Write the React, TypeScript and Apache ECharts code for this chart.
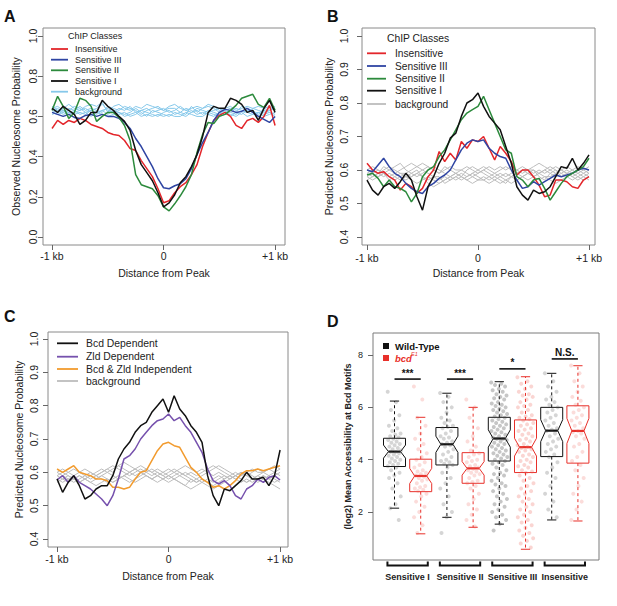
import React, { useEffect, useRef } from "react";
import * as echarts from "echarts";

const FONT = "'Liberation Sans', Arial, Helvetica, sans-serif";

// ---------- shared x positions (bp from peak) ----------
const distanceBp = [-1000, -950, -900, -850, -800, -750, -700, -650, -600, -550, -500, -450, -400, -350, -300, -250, -200, -150, -100, -50, 0, 50, 100, 150, 200, 250, 300, 350, 400, 450, 500, 550, 600, 650, 700, 750, 800, 850, 900, 950, 1000];
const xTickValues = [-1000, 0, 1000];
const xTickLabels = ["-1 kb", "0", "+1 kb"];

// ---------- Panel A: observed nucleosome probability ----------
const obsInsensitive = [0.54, 0.58, 0.56, 0.58, 0.57, 0.59, 0.58, 0.56, 0.55, 0.54, 0.52, 0.51, 0.505, 0.48, 0.44, 0.43, 0.38, 0.34, 0.30, 0.24, 0.17, 0.18, 0.22, 0.25, 0.27, 0.31, 0.36, 0.45, 0.52, 0.58, 0.605, 0.62, 0.60, 0.555, 0.54, 0.58, 0.59, 0.57, 0.60, 0.655, 0.555];
const obsSensitiveIII = [0.62, 0.61, 0.60, 0.61, 0.595, 0.59, 0.605, 0.61, 0.60, 0.61, 0.60, 0.60, 0.59, 0.57, 0.54, 0.49, 0.45, 0.40, 0.35, 0.29, 0.245, 0.24, 0.255, 0.265, 0.29, 0.34, 0.41, 0.47, 0.52, 0.58, 0.62, 0.635, 0.63, 0.62, 0.625, 0.64, 0.62, 0.60, 0.585, 0.57, 0.60];
const obsSensitiveII = [0.63, 0.70, 0.65, 0.59, 0.62, 0.69, 0.68, 0.65, 0.575, 0.60, 0.62, 0.62, 0.595, 0.555, 0.48, 0.31, 0.26, 0.25, 0.24, 0.205, 0.15, 0.13, 0.165, 0.205, 0.25, 0.31, 0.42, 0.51, 0.57, 0.565, 0.60, 0.61, 0.63, 0.655, 0.69, 0.70, 0.71, 0.66, 0.645, 0.69, 0.63];
const obsSensitiveI = [0.64, 0.62, 0.65, 0.63, 0.61, 0.56, 0.58, 0.62, 0.62, 0.68, 0.65, 0.63, 0.60, 0.575, 0.53, 0.43, 0.36, 0.32, 0.28, 0.22, 0.15, 0.17, 0.21, 0.27, 0.30, 0.35, 0.41, 0.50, 0.62, 0.65, 0.64, 0.64, 0.69, 0.68, 0.66, 0.62, 0.63, 0.58, 0.64, 0.68, 0.62];
const obsBackground1 = [0.63, 0.64, 0.62, 0.63, 0.65, 0.64, 0.62, 0.63, 0.64, 0.66, 0.63, 0.62, 0.64, 0.63, 0.65, 0.62, 0.63, 0.64, 0.62, 0.63, 0.64, 0.62, 0.63, 0.65, 0.63, 0.62, 0.64, 0.63, 0.62, 0.63, 0.64, 0.62, 0.63, 0.64, 0.63, 0.62, 0.64, 0.63, 0.62, 0.63, 0.64];
const obsBackground2 = [0.61, 0.62, 0.63, 0.61, 0.62, 0.63, 0.64, 0.62, 0.61, 0.63, 0.64, 0.62, 0.61, 0.62, 0.60, 0.61, 0.63, 0.62, 0.61, 0.60, 0.62, 0.63, 0.61, 0.62, 0.64, 0.63, 0.61, 0.62, 0.61, 0.60, 0.62, 0.61, 0.62, 0.61, 0.63, 0.62, 0.61, 0.62, 0.61, 0.62, 0.61];
const obsBackground3 = [0.65, 0.63, 0.64, 0.66, 0.64, 0.63, 0.65, 0.66, 0.65, 0.67, 0.62, 0.65, 0.66, 0.64, 0.63, 0.65, 0.64, 0.66, 0.65, 0.64, 0.63, 0.65, 0.66, 0.64, 0.63, 0.64, 0.65, 0.64, 0.66, 0.65, 0.63, 0.64, 0.65, 0.63, 0.64, 0.65, 0.64, 0.65, 0.64, 0.63, 0.65];
const obsBackground4 = [0.62, 0.61, 0.62, 0.64, 0.63, 0.61, 0.62, 0.60, 0.62, 0.63, 0.61, 0.63, 0.62, 0.61, 0.62, 0.64, 0.62, 0.60, 0.63, 0.62, 0.61, 0.60, 0.62, 0.61, 0.60, 0.62, 0.63, 0.61, 0.63, 0.62, 0.61, 0.63, 0.60, 0.62, 0.61, 0.63, 0.62, 0.60, 0.63, 0.62, 0.60];
const obsBackground5 = [0.64, 0.65, 0.63, 0.62, 0.63, 0.65, 0.63, 0.64, 0.63, 0.62, 0.65, 0.64, 0.63, 0.65, 0.64, 0.63, 0.61, 0.63, 0.64, 0.65, 0.63, 0.64, 0.64, 0.62, 0.61, 0.65, 0.62, 0.64, 0.65, 0.64, 0.62, 0.63, 0.64, 0.62, 0.65, 0.64, 0.63, 0.61, 0.64, 0.65, 0.63];
const obsBackground6 = [0.62, 0.63, 0.61, 0.62, 0.61, 0.62, 0.61, 0.63, 0.62, 0.61, 0.60, 0.61, 0.62, 0.60, 0.61, 0.62, 0.60, 0.61, 0.60, 0.61, 0.60, 0.61, 0.60, 0.60, 0.62, 0.61, 0.60, 0.60, 0.62, 0.61, 0.60, 0.61, 0.61, 0.60, 0.62, 0.60, 0.61, 0.62, 0.60, 0.61, 0.62];

// ---------- Panel B: predicted nucleosome probability, ChIP classes ----------
const predInsensitive = [0.62, 0.60, 0.59, 0.595, 0.58, 0.57, 0.54, 0.56, 0.55, 0.53, 0.545, 0.58, 0.60, 0.655, 0.625, 0.65, 0.63, 0.685, 0.665, 0.69, 0.685, 0.70, 0.665, 0.63, 0.67, 0.65, 0.625, 0.585, 0.60, 0.60, 0.58, 0.555, 0.52, 0.525, 0.57, 0.57, 0.565, 0.55, 0.545, 0.57, 0.58];
const predSensitiveIII = [0.60, 0.595, 0.615, 0.635, 0.61, 0.59, 0.58, 0.56, 0.545, 0.535, 0.53, 0.55, 0.56, 0.575, 0.585, 0.60, 0.63, 0.66, 0.68, 0.69, 0.685, 0.69, 0.665, 0.65, 0.64, 0.635, 0.60, 0.57, 0.545, 0.55, 0.565, 0.555, 0.565, 0.575, 0.585, 0.58, 0.585, 0.59, 0.60, 0.605, 0.60];
const predSensitiveII = [0.585, 0.59, 0.575, 0.55, 0.57, 0.55, 0.545, 0.535, 0.505, 0.53, 0.58, 0.60, 0.61, 0.64, 0.66, 0.69, 0.72, 0.75, 0.77, 0.78, 0.79, 0.82, 0.78, 0.74, 0.70, 0.66, 0.65, 0.58, 0.57, 0.55, 0.57, 0.575, 0.545, 0.51, 0.535, 0.56, 0.58, 0.59, 0.60, 0.61, 0.635];
const predSensitiveI = [0.57, 0.54, 0.525, 0.55, 0.56, 0.545, 0.565, 0.59, 0.57, 0.52, 0.48, 0.55, 0.58, 0.62, 0.65, 0.695, 0.71, 0.76, 0.80, 0.81, 0.83, 0.79, 0.76, 0.74, 0.72, 0.67, 0.62, 0.55, 0.525, 0.51, 0.54, 0.53, 0.535, 0.55, 0.58, 0.61, 0.605, 0.635, 0.60, 0.62, 0.645];
const predBackgroundB1 = [0.60, 0.61, 0.60, 0.59, 0.60, 0.61, 0.62, 0.60, 0.59, 0.58, 0.59, 0.60, 0.61, 0.60, 0.59, 0.58, 0.59, 0.60, 0.59, 0.58, 0.59, 0.60, 0.59, 0.58, 0.59, 0.58, 0.59, 0.60, 0.61, 0.60, 0.59, 0.60, 0.59, 0.60, 0.61, 0.60, 0.59, 0.58, 0.59, 0.60, 0.59];
const predBackgroundB2 = [0.58, 0.57, 0.58, 0.59, 0.57, 0.58, 0.59, 0.58, 0.57, 0.56, 0.57, 0.58, 0.57, 0.56, 0.57, 0.58, 0.57, 0.58, 0.57, 0.56, 0.57, 0.58, 0.57, 0.58, 0.57, 0.56, 0.58, 0.57, 0.58, 0.59, 0.58, 0.57, 0.58, 0.57, 0.56, 0.57, 0.58, 0.57, 0.58, 0.57, 0.58];
const predBackgroundB3 = [0.59, 0.60, 0.59, 0.61, 0.60, 0.59, 0.60, 0.61, 0.62, 0.61, 0.60, 0.61, 0.60, 0.59, 0.60, 0.61, 0.60, 0.60, 0.61, 0.60, 0.59, 0.60, 0.61, 0.60, 0.61, 0.60, 0.61, 0.60, 0.59, 0.60, 0.61, 0.62, 0.61, 0.60, 0.59, 0.60, 0.61, 0.60, 0.61, 0.60, 0.61];
const predBackgroundB4 = [0.57, 0.58, 0.59, 0.58, 0.59, 0.58, 0.57, 0.58, 0.59, 0.60, 0.58, 0.57, 0.58, 0.57, 0.58, 0.57, 0.58, 0.59, 0.58, 0.59, 0.58, 0.57, 0.58, 0.59, 0.58, 0.59, 0.58, 0.59, 0.58, 0.57, 0.58, 0.59, 0.60, 0.59, 0.58, 0.59, 0.58, 0.59, 0.58, 0.59, 0.58];
const predBackgroundB5 = [0.60, 0.59, 0.58, 0.59, 0.58, 0.59, 0.58, 0.57, 0.58, 0.59, 0.60, 0.59, 0.58, 0.58, 0.56, 0.57, 0.58, 0.57, 0.58, 0.59, 0.60, 0.59, 0.58, 0.57, 0.56, 0.57, 0.56, 0.57, 0.58, 0.59, 0.58, 0.59, 0.60, 0.61, 0.60, 0.59, 0.60, 0.59, 0.60, 0.59, 0.60];
const predBackgroundB6 = [0.59, 0.58, 0.59, 0.60, 0.61, 0.60, 0.59, 0.59, 0.60, 0.61, 0.62, 0.61, 0.60, 0.59, 0.61, 0.60, 0.59, 0.58, 0.60, 0.61, 0.60, 0.61, 0.60, 0.59, 0.60, 0.61, 0.60, 0.59, 0.60, 0.60, 0.60, 0.59, 0.58, 0.58, 0.59, 0.60, 0.59, 0.58, 0.57, 0.58, 0.57];
const predBackgroundB7 = [0.58, 0.59, 0.60, 0.59, 0.58, 0.57, 0.58, 0.59, 0.58, 0.59, 0.58, 0.56, 0.55, 0.56, 0.57, 0.58, 0.59, 0.58, 0.57, 0.58, 0.57, 0.57, 0.56, 0.57, 0.58, 0.57, 0.58, 0.59, 0.60, 0.59, 0.60, 0.58, 0.57, 0.59, 0.60, 0.58, 0.59, 0.60, 0.59, 0.58, 0.59];

// ---------- Panel C: predicted nucleosome probability, Bcd / Zld classes ----------
const predBcdDependent = [0.58, 0.54, 0.57, 0.59, 0.56, 0.52, 0.53, 0.55, 0.56, 0.56, 0.59, 0.64, 0.67, 0.69, 0.72, 0.74, 0.75, 0.78, 0.80, 0.82, 0.78, 0.83, 0.79, 0.77, 0.74, 0.72, 0.69, 0.59, 0.53, 0.50, 0.55, 0.545, 0.56, 0.575, 0.60, 0.58, 0.58, 0.585, 0.56, 0.59, 0.667];
const predZldDependent = [0.577, 0.59, 0.57, 0.59, 0.57, 0.56, 0.55, 0.535, 0.52, 0.50, 0.53, 0.58, 0.64, 0.65, 0.67, 0.70, 0.72, 0.74, 0.755, 0.76, 0.775, 0.755, 0.765, 0.74, 0.72, 0.69, 0.66, 0.61, 0.575, 0.565, 0.575, 0.56, 0.53, 0.52, 0.55, 0.56, 0.58, 0.57, 0.585, 0.59, 0.577];
const predIndependent = [0.61, 0.60, 0.61, 0.62, 0.60, 0.595, 0.59, 0.58, 0.58, 0.575, 0.555, 0.555, 0.55, 0.555, 0.58, 0.60, 0.605, 0.635, 0.665, 0.685, 0.69, 0.68, 0.675, 0.645, 0.615, 0.60, 0.58, 0.57, 0.555, 0.56, 0.55, 0.56, 0.575, 0.595, 0.605, 0.605, 0.61, 0.605, 0.61, 0.615, 0.62];
const predBackgroundC1 = [0.60, 0.61, 0.60, 0.59, 0.60, 0.61, 0.60, 0.59, 0.60, 0.61, 0.62, 0.61, 0.60, 0.59, 0.60, 0.61, 0.60, 0.61, 0.60, 0.59, 0.60, 0.61, 0.60, 0.59, 0.60, 0.59, 0.60, 0.61, 0.62, 0.61, 0.60, 0.59, 0.60, 0.59, 0.60, 0.61, 0.60, 0.60, 0.61, 0.60, 0.61];
const predBackgroundC2 = [0.58, 0.57, 0.58, 0.59, 0.57, 0.58, 0.57, 0.56, 0.57, 0.58, 0.57, 0.58, 0.59, 0.58, 0.57, 0.58, 0.59, 0.58, 0.57, 0.58, 0.59, 0.58, 0.57, 0.56, 0.58, 0.57, 0.58, 0.57, 0.56, 0.57, 0.58, 0.59, 0.58, 0.57, 0.58, 0.57, 0.58, 0.59, 0.58, 0.57, 0.58];
const predBackgroundC3 = [0.59, 0.60, 0.59, 0.58, 0.59, 0.58, 0.59, 0.60, 0.61, 0.60, 0.61, 0.62, 0.61, 0.60, 0.61, 0.62, 0.61, 0.60, 0.61, 0.60, 0.59, 0.60, 0.59, 0.60, 0.59, 0.58, 0.59, 0.60, 0.59, 0.60, 0.59, 0.58, 0.59, 0.60, 0.59, 0.58, 0.59, 0.60, 0.59, 0.60, 0.59];
const predBackgroundC4 = [0.57, 0.58, 0.57, 0.58, 0.59, 0.58, 0.57, 0.58, 0.59, 0.58, 0.57, 0.58, 0.59, 0.60, 0.59, 0.60, 0.59, 0.58, 0.59, 0.58, 0.59, 0.58, 0.57, 0.56, 0.55, 0.56, 0.57, 0.58, 0.57, 0.58, 0.59, 0.58, 0.59, 0.58, 0.57, 0.58, 0.57, 0.58, 0.57, 0.56, 0.55];
const predBackgroundC5 = [0.60, 0.59, 0.60, 0.61, 0.60, 0.59, 0.58, 0.59, 0.60, 0.61, 0.60, 0.62, 0.63, 0.62, 0.61, 0.60, 0.61, 0.60, 0.59, 0.60, 0.61, 0.60, 0.61, 0.62, 0.61, 0.60, 0.61, 0.60, 0.61, 0.62, 0.61, 0.60, 0.59, 0.60, 0.59, 0.60, 0.61, 0.60, 0.61, 0.62, 0.61];
const predBackgroundC6 = [0.58, 0.59, 0.58, 0.57, 0.58, 0.59, 0.60, 0.59, 0.58, 0.57, 0.58, 0.59, 0.58, 0.57, 0.58, 0.59, 0.60, 0.59, 0.60, 0.59, 0.58, 0.59, 0.60, 0.59, 0.58, 0.57, 0.58, 0.57, 0.58, 0.59, 0.58, 0.59, 0.58, 0.59, 0.60, 0.59, 0.58, 0.59, 0.58, 0.59, 0.60];
const predBackgroundC7 = [0.59, 0.58, 0.59, 0.58, 0.57, 0.58, 0.59, 0.58, 0.59, 0.60, 0.59, 0.58, 0.59, 0.60, 0.61, 0.60, 0.59, 0.58, 0.59, 0.58, 0.57, 0.58, 0.59, 0.58, 0.57, 0.58, 0.57, 0.56, 0.55, 0.56, 0.57, 0.58, 0.59, 0.58, 0.57, 0.58, 0.59, 0.58, 0.59, 0.58, 0.57];

// ---------- Panel D: accessibility boxplots ----------
const groupNames = ["Sensitive I", "Sensitive II", "Sensitive III", "Insensitive"];
const groupCenters = [1.5, 3.5, 5.5, 7.5];
const wtPositions = [1, 3, 5, 7];
const mutPositions = [2, 4, 6, 8];
const wtLowerWhisker = [2.15, 1.80, 1.54, 1.70];
const wtQ1 = [3.74, 3.80, 3.95, 4.12];
const wtMedian = [4.31, 4.59, 4.81, 5.11];
const wtQ3 = [4.82, 5.23, 5.62, 6.00];
const wtUpperWhisker = [6.24, 6.54, 6.98, 7.30];
const wtNotchHalf = [0.25, 0.31, 0.33, 0.42];
const mutLowerWhisker = [1.17, 1.42, 0.58, 1.66];
const mutQ1 = [2.78, 3.10, 3.51, 3.87];
const mutMedian = [3.38, 3.67, 4.48, 5.10];
const mutQ3 = [4.02, 4.27, 5.52, 6.06];
const mutUpperWhisker = [5.62, 6.00, 7.17, 7.59];
const mutNotchHalf = [0.29, 0.26, 0.34, 0.48];
const sigLabels = ["***", "***", "*", "N.S."];
const sigHeights = [7.08, 7.08, 7.47, 7.85];
const dTicks = [2, 4, 6, 8];

const wtPointsSI = [6.6, 6.2, 5.9, 5.7, 5.5, 5.3, 5.2, 5.1, 5.0, 4.95, 4.9, 4.85, 4.8, 4.75, 4.7, 4.65, 4.6, 4.55, 4.5, 4.45, 4.4, 4.35, 4.3, 4.3, 4.25, 4.2, 4.15, 4.1, 4.05, 4.0, 3.95, 3.9, 3.85, 3.8, 3.75, 3.7, 3.6, 3.5, 3.4, 3.3, 3.1, 2.9, 2.6, 2.3, 2.15, 1.7];
const mutPointsSI = [6.8, 6.3, 5.6, 5.3, 5.0, 4.8, 4.6, 4.4, 4.25, 4.1, 4.0, 3.9, 3.8, 3.7, 3.6, 3.55, 3.5, 3.45, 3.4, 3.35, 3.3, 3.25, 3.2, 3.1, 3.0, 2.95, 2.9, 2.85, 2.8, 2.7, 2.6, 2.4, 2.2, 2.0, 1.8, 1.5, 1.2];
const wtPointsSII = [6.55, 6.4, 6.2, 6.0, 5.8, 5.6, 5.5, 5.4, 5.3, 5.25, 5.2, 5.1, 5.0, 4.9, 4.85, 4.8, 4.7, 4.65, 4.6, 4.55, 4.5, 4.4, 4.3, 4.2, 4.1, 4.0, 3.95, 3.9, 3.85, 3.8, 3.7, 3.5, 3.3, 3.1, 2.9, 2.6, 2.3, 2.0, 1.8, 1.2];
const mutPointsSII = [6.3, 6.0, 5.6, 5.2, 4.9, 4.7, 4.5, 4.35, 4.25, 4.2, 4.1, 4.0, 3.95, 3.9, 3.8, 3.75, 3.7, 3.65, 3.6, 3.55, 3.5, 3.45, 3.4, 3.3, 3.2, 3.15, 3.1, 3.0, 2.9, 2.7, 2.5, 2.3, 2.1, 1.9, 1.7, 1.45];
const wtPointsSIII = [6.95, 6.9, 6.85, 6.8, 6.7, 6.65, 6.6, 6.5, 6.45, 6.4, 6.35, 6.3, 6.2, 6.15, 6.1, 6.05, 6.0, 5.95, 5.9, 5.85, 5.8, 5.75, 5.7, 5.65, 5.6, 5.55, 5.5, 5.45, 5.4, 5.35, 5.3, 5.25, 5.2, 5.15, 5.1, 5.05, 5.0, 4.95, 4.9, 4.85, 4.8, 4.8, 4.75, 4.7, 4.65, 4.6, 4.55, 4.5, 4.45, 4.4, 4.35, 4.3, 4.25, 4.2, 4.15, 4.1, 4.05, 4.0, 3.95, 3.9, 3.85, 3.8, 3.7, 3.6, 3.5, 3.45, 3.4, 3.3, 3.2, 3.1, 3.05, 3.0, 2.9, 2.8, 2.7, 2.6, 2.5, 2.4, 2.3, 2.2, 2.1, 2.0, 1.9, 1.8, 1.7, 1.55, 1.3];
const mutPointsSIII = [7.15, 7.0, 6.9, 6.8, 6.7, 6.6, 6.5, 6.45, 6.4, 6.3, 6.2, 6.1, 6.05, 6.0, 5.9, 5.8, 5.7, 5.65, 5.6, 5.55, 5.5, 5.4, 5.35, 5.3, 5.2, 5.15, 5.1, 5.0, 4.95, 4.9, 4.8, 4.75, 4.7, 4.6, 4.55, 4.5, 4.45, 4.4, 4.35, 4.3, 4.2, 4.15, 4.1, 4.0, 3.95, 3.9, 3.8, 3.75, 3.7, 3.6, 3.55, 3.5, 3.4, 3.3, 3.2, 3.1, 3.0, 2.9, 2.8, 2.7, 2.6, 2.5, 2.4, 2.3, 2.2, 2.1, 2.0, 1.9, 1.8, 1.7, 1.6, 1.5, 1.4, 1.3, 1.2, 1.1, 1.0, 0.9, 0.8, 0.65];
const wtPointsIns = [7.3, 7.0, 6.8, 6.6, 6.4, 6.3, 6.2, 6.1, 6.0, 5.9, 5.8, 5.7, 5.6, 5.5, 5.4, 5.3, 5.2, 5.15, 5.1, 5.0, 4.9, 4.8, 4.7, 4.6, 4.5, 4.4, 4.3, 4.2, 4.1, 3.9, 3.7, 3.5, 3.3, 3.0, 2.7, 2.4, 2.1, 1.8];
const mutPointsIns = [7.6, 7.3, 7.0, 6.8, 6.6, 6.4, 6.25, 6.1, 6.0, 5.9, 5.8, 5.7, 5.6, 5.5, 5.4, 5.3, 5.2, 5.1, 5.05, 5.0, 4.9, 4.8, 4.6, 4.5, 4.3, 4.1, 3.95, 3.8, 3.6, 3.3, 3.0, 2.7, 2.4, 2.1, 1.7];

// ---------- styling constants ----------
const C_RED = "#e3262b";
const C_BLUE = "#2f45a3";
const C_GREEN = "#2c8a3c";
const C_BLACK = "#111111";
const C_SKY = "#86c8ea";
const C_GRAY = "#bdbdbd";
const C_PURPLE = "#7651ad";
const C_ORANGE = "#f29b2e";
const D_RED = "#e8302a";
const TXT = "#222222";
const BOX_WIDTH = 0.84;

function pairs(arr: number[]) {
  return distanceBp.map((x, i) => [x, arr[i]]);
}

function lineSeries(ax: number, arr: number[], color: string, width: number) {
  return {
    type: "line",
    xAxisIndex: ax,
    yAxisIndex: ax,
    data: pairs(arr),
    symbol: "none",
    showSymbol: false,
    silent: true,
    lineStyle: { color, width },
  };
}

function lineXAxis(grid: number, min: number, max: number, margin: number, nameGap: number) {
  return {
    gridIndex: grid,
    type: "value",
    min,
    max,
    axisLine: { show: false, onZero: false },
    splitLine: { show: false },
    axisTick: { show: true, customValues: xTickValues, length: 5, lineStyle: { color: "#666", width: 1 } },
    axisLabel: {
      customValues: xTickValues,
      formatter: (v: number) => xTickLabels[xTickValues.indexOf(v)] ?? "",
      margin,
      fontSize: 10.5,
      color: TXT,
      fontFamily: FONT,
    },
    name: "Distance from Peak",
    nameLocation: "middle",
    nameGap,
    nameTextStyle: { fontSize: 10.5, color: TXT, fontFamily: FONT },
  };
}

function lineYAxis(grid: number, min: number, max: number, ticks: number[], margin: number, name: string, nameGap: number) {
  return {
    gridIndex: grid,
    type: "value",
    min,
    max,
    axisLine: { show: false, onZero: false },
    splitLine: { show: false },
    axisTick: { show: true, customValues: ticks, length: 5, lineStyle: { color: "#666", width: 1 } },
    axisLabel: {
      customValues: ticks,
      formatter: (v: number) => v.toFixed(1),
      rotate: 90,
      margin,
      fontSize: 10.5,
      color: TXT,
      fontFamily: FONT,
    },
    name,
    nameLocation: "middle",
    nameGap,
    nameTextStyle: { fontSize: 10.5, color: TXT, fontFamily: FONT },
  };
}

function boxSeries(positions: number[], lo: number[], q1: number[], med: number[], q3: number[], hi: number[], notch: number[], color: string) {
  return {
    type: "custom",
    xAxisIndex: 3,
    yAxisIndex: 3,
    clip: false,
    silent: true,
    z: 3,
    data: positions.map((p, i) => [p, lo[i], q1[i], med[i], q3[i], hi[i], notch[i]]),
    renderItem: (_params: any, api: any) => {
      const p = api.value(0);
      const y = (v: number) => api.coord([p, v])[1];
      const cx = api.coord([p, api.value(3)])[0];
      const hw = api.size([BOX_WIDTH, 0])[0] / 2;
      const inner = hw * 0.55;
      const yLo = y(api.value(1));
      const yQ1 = y(api.value(2));
      const yMed = y(api.value(3));
      const yQ3 = y(api.value(4));
      const yHi = y(api.value(5));
      const yNT = y(api.value(3) + api.value(6));
      const yNB = y(api.value(3) - api.value(6));
      const cap = hw * 0.42;
      return {
        type: "group",
        children: [
          { type: "line", shape: { x1: cx, y1: yQ3, x2: cx, y2: yHi }, style: { stroke: color, lineWidth: 1, lineDash: [3, 3] } },
          { type: "line", shape: { x1: cx, y1: yQ1, x2: cx, y2: yLo }, style: { stroke: color, lineWidth: 1, lineDash: [3, 3] } },
          { type: "line", shape: { x1: cx - cap, y1: yHi, x2: cx + cap, y2: yHi }, style: { stroke: color, lineWidth: 1 } },
          { type: "line", shape: { x1: cx - cap, y1: yLo, x2: cx + cap, y2: yLo }, style: { stroke: color, lineWidth: 1 } },
          {
            type: "polygon",
            shape: {
              points: [
                [cx - hw, yQ3], [cx + hw, yQ3], [cx + hw, yNT], [cx + inner, yMed], [cx + hw, yNB],
                [cx + hw, yQ1], [cx - hw, yQ1], [cx - hw, yNB], [cx - inner, yMed], [cx - hw, yNT],
              ],
            },
            style: { fill: "rgba(255,255,255,0)", stroke: color, lineWidth: 1 },
          },
          { type: "line", shape: { x1: cx - inner, y1: yMed, x2: cx + inner, y2: yMed }, style: { stroke: color, lineWidth: 2.2 } },
        ],
      };
    },
  };
}

function jittered(pos: number, values: number[], spread: number) {
  return values.map((v, i) => [pos + (((i * 0.618034) % 1) - 0.5) * spread, v]);
}

function pointSeries(pos: number, values: number[], color: string, spread: number) {
  return {
    type: "scatter",
    xAxisIndex: 3,
    yAxisIndex: 3,
    data: jittered(pos, values, spread),
    symbol: "circle",
    symbolSize: 4,
    silent: true,
    z: 4,
    itemStyle: { color, borderWidth: 0 },
  };
}

function legendBlock(x0: number, x1: number, tx: number, ys: number[], labels: string[], colors: string[], size: number) {
  const out: any[] = [];
  labels.forEach((lab, i) => {
    out.push({ type: "line", shape: { x1: x0, y1: ys[i], x2: x1, y2: ys[i] }, style: { stroke: colors[i], lineWidth: 1.8 }, silent: true });
    out.push({ type: "text", x: tx, y: ys[i], style: { text: lab, fontSize: size, fontFamily: FONT, fill: TXT, align: "left", verticalAlign: "middle" }, silent: true });
  });
  return out;
}

function letter(ch: string, x: number, y: number) {
  return { type: "text", x, y, style: { text: ch, fontSize: 16, fontWeight: "bold", fontFamily: FONT, fill: "#111", align: "left", verticalAlign: "middle" }, silent: true };
}

export default function App() {
  const ref = useRef<HTMLDivElement>(null);

  useEffect(() => {
    if (!ref.current) return;
    const chart = echarts.init(ref.current, undefined, { renderer: "svg" });

    const gridStyle = { show: true, borderColor: "#8a8a8a", borderWidth: 1, backgroundColor: "rgba(0,0,0,0)" };

    const classLabels = ["Insensitive", "Sensitive III", "Sensitive II", "Sensitive I", "background"];
    const WT_PT = "rgba(80,80,80,0.3)";
    const MUT_PT = "rgba(235,95,85,0.27)";

    const option: any = {
      animation: false,
      grid: [
        { left: 43, top: 28, width: 242, height: 217, ...gridStyle },
        { left: 362, top: 28, width: 233, height: 217, ...gridStyle },
        { left: 48, top: 332, width: 240, height: 215, ...gridStyle },
        { left: 373, top: 333, width: 226, height: 227, ...gridStyle, borderColor: "#7a7a7a" },
      ],
      xAxis: [
        lineXAxis(0, -1081, 1089, 5, 22),
        lineXAxis(1, -1045, 1054, 7, 22),
        lineXAxis(2, -1081, 1071, 6, 23),
        {
          gridIndex: 3,
          type: "value",
          min: 0.179,
          max: 8.805,
          axisLine: { show: false, onZero: false },
          splitLine: { show: false },
          axisTick: { show: false },
          axisLabel: {
            customValues: groupCenters,
            formatter: (v: number) => groupNames[groupCenters.indexOf(v)] ?? "",
            margin: 12,
            fontSize: 9,
            fontWeight: "bold",
            color: TXT,
            fontFamily: FONT,
          },
        },
      ],
      yAxis: [
        lineYAxis(0, -0.04, 1.04, [0, 0.2, 0.4, 0.6, 0.8, 1.0], 5, "Observed Nucleosome Probability", 22),
        lineYAxis(1, 0.376, 1.024, [0.4, 0.5, 0.6, 0.7, 0.8, 0.9, 1.0], 13, "Predicted Nucleosome Probability", 28),
        lineYAxis(2, 0.376, 1.021, [0.4, 0.5, 0.6, 0.7, 0.8, 0.9, 1.0], 9, "Predicted Nucleosome Probability", 24),
        {
          gridIndex: 3,
          type: "value",
          min: 0.17,
          max: 8.84,
          axisLine: { show: false, onZero: false },
          splitLine: { show: false },
          axisTick: { show: true, customValues: dTicks, length: 5, lineStyle: { color: "#666" } },
          axisLabel: { customValues: dTicks, margin: 10, fontSize: 9, color: TXT, fontFamily: FONT },
          name: "(log2) Mean Accessibility at Bcd Motifs",
          nameLocation: "middle",
          nameGap: 21,
          nameTextStyle: { fontSize: 9, fontWeight: "bold", color: TXT, fontFamily: FONT },
        },
      ],
      series: [
        // Panel A
        lineSeries(0, obsBackground1, C_SKY, 1),
        lineSeries(0, obsBackground2, C_SKY, 1),
        lineSeries(0, obsBackground3, C_SKY, 1),
        lineSeries(0, obsBackground4, C_SKY, 1),
        lineSeries(0, obsBackground5, C_SKY, 1),
        lineSeries(0, obsBackground6, C_SKY, 1),
        lineSeries(0, obsInsensitive, C_RED, 1.5),
        lineSeries(0, obsSensitiveIII, C_BLUE, 1.5),
        lineSeries(0, obsSensitiveII, C_GREEN, 1.5),
        lineSeries(0, obsSensitiveI, C_BLACK, 1.5),
        // Panel B
        lineSeries(1, predBackgroundB1, C_GRAY, 1),
        lineSeries(1, predBackgroundB2, C_GRAY, 1),
        lineSeries(1, predBackgroundB3, C_GRAY, 1),
        lineSeries(1, predBackgroundB4, C_GRAY, 1),
        lineSeries(1, predBackgroundB5, C_GRAY, 1),
        lineSeries(1, predBackgroundB6, C_GRAY, 1),
        lineSeries(1, predBackgroundB7, C_GRAY, 1),
        lineSeries(1, predInsensitive, C_RED, 1.5),
        lineSeries(1, predSensitiveIII, C_BLUE, 1.5),
        lineSeries(1, predSensitiveII, C_GREEN, 1.5),
        lineSeries(1, predSensitiveI, C_BLACK, 1.5),
        // Panel C
        lineSeries(2, predBackgroundC1, C_GRAY, 1),
        lineSeries(2, predBackgroundC2, C_GRAY, 1),
        lineSeries(2, predBackgroundC3, C_GRAY, 1),
        lineSeries(2, predBackgroundC4, C_GRAY, 1),
        lineSeries(2, predBackgroundC5, C_GRAY, 1),
        lineSeries(2, predBackgroundC6, C_GRAY, 1),
        lineSeries(2, predBackgroundC7, C_GRAY, 1),
        lineSeries(2, predIndependent, C_ORANGE, 1.5),
        lineSeries(2, predZldDependent, C_PURPLE, 1.5),
        lineSeries(2, predBcdDependent, C_BLACK, 1.5),
        // Panel D boxes
        boxSeries(wtPositions, wtLowerWhisker, wtQ1, wtMedian, wtQ3, wtUpperWhisker, wtNotchHalf, "#111111"),
        boxSeries(mutPositions, mutLowerWhisker, mutQ1, mutMedian, mutQ3, mutUpperWhisker, mutNotchHalf, D_RED),
        // Panel D points
        pointSeries(wtPositions[0], wtPointsSI, WT_PT, 0.52),
        pointSeries(mutPositions[0], mutPointsSI, MUT_PT, 0.52),
        pointSeries(wtPositions[1], wtPointsSII, WT_PT, 0.52),
        pointSeries(mutPositions[1], mutPointsSII, MUT_PT, 0.52),
        pointSeries(wtPositions[2], wtPointsSIII, "rgba(70,70,70,0.38)", 0.62),
        pointSeries(mutPositions[2], mutPointsSIII, "rgba(235,95,85,0.33)", 0.62),
        pointSeries(wtPositions[3], wtPointsIns, WT_PT, 0.52),
        pointSeries(mutPositions[3], mutPointsIns, MUT_PT, 0.52),
        // Panel D significance bars
        {
          type: "custom",
          xAxisIndex: 3,
          yAxisIndex: 3,
          clip: false,
          silent: true,
          z: 5,
          data: sigLabels.map((_, i) => [wtPositions[i], mutPositions[i], sigHeights[i], i]),
          renderItem: (_p: any, api: any) => {
            const a = api.coord([api.value(0), api.value(2)]);
            const b = api.coord([api.value(1), api.value(2)]);
            return {
              type: "group",
              children: [
                { type: "line", shape: { x1: a[0], y1: a[1], x2: b[0], y2: b[1] }, style: { stroke: "#111", lineWidth: 1.6 } },
                {
                  type: "text",
                  x: (a[0] + b[0]) / 2,
                  y: a[1] - 1,
                  style: { text: sigLabels[api.value(3)], fontSize: 10, fontWeight: "bold", fontFamily: FONT, fill: "#111", align: "center", verticalAlign: "bottom" },
                },
              ],
            };
          },
        },
        // Panel D group brackets below axis
        {
          type: "custom",
          xAxisIndex: 3,
          yAxisIndex: 3,
          clip: false,
          silent: true,
          z: 5,
          data: groupCenters.map((_, i) => [wtPositions[i], mutPositions[i]]),
          renderItem: (_p: any, api: any) => {
            const a = api.coord([api.value(0), 0.17]);
            const b = api.coord([api.value(1), 0.17]);
            const ext = api.size([0.27, 0])[0];
            const yb = a[1] + 5.5;
            return {
              type: "polyline",
              shape: { points: [[a[0] - ext, yb - 4], [a[0] - ext, yb], [b[0] + ext, yb], [b[0] + ext, yb - 4]] },
              style: { stroke: "#111", lineWidth: 2, fill: null },
            };
          },
        },
      ],
      graphic: [
        letter("A", 4, 16),
        letter("B", 327, 16),
        letter("C", 4, 316),
        letter("D", 327, 321),
        // Legend A
        { type: "text", x: 68, y: 36, style: { text: "ChIP Classes", fontSize: 9, fontFamily: FONT, fill: TXT, align: "left", verticalAlign: "middle" }, silent: true },
        ...legendBlock(51, 68, 75, [49, 59.7, 70.3, 81, 91.7], classLabels, [C_RED, C_BLUE, C_GREEN, C_BLACK, C_SKY], 9),
        // Legend B
        { type: "text", x: 387, y: 38, style: { text: "ChIP Classes", fontSize: 10.3, fontFamily: FONT, fill: TXT, align: "left", verticalAlign: "middle" }, silent: true },
        ...legendBlock(367, 386, 395, [53.3, 66, 78.7, 90.7, 104], classLabels, [C_RED, C_BLUE, C_GREEN, C_BLACK, C_GRAY], 10.2),
        // Legend C
        ...legendBlock(57, 78, 86, [343.3, 356.7, 369, 381], ["Bcd Dependent", "Zld Dependent", "Bcd & Zld Independent", "background"], [C_BLACK, C_PURPLE, C_ORANGE, C_GRAY], 10.4),
        // Legend D
        { type: "rect", shape: { x: 383, y: 343, width: 6, height: 6 }, style: { fill: "#111" }, silent: true },
        { type: "rect", shape: { x: 383, y: 355, width: 6, height: 6 }, style: { fill: D_RED }, silent: true },
        { type: "text", x: 395, y: 346, style: { text: "Wild-Type", fontSize: 9.5, fontWeight: "bold", fontFamily: FONT, fill: "#111", align: "left", verticalAlign: "middle" }, silent: true },
        { type: "text", x: 395, y: 358, style: { text: "bcd", fontSize: 9.5, fontWeight: "bold", fontStyle: "italic", fontFamily: FONT, fill: D_RED, align: "left", verticalAlign: "middle" }, silent: true },
        { type: "text", x: 411, y: 354, style: { text: "E1", fontSize: 5.5, fontStyle: "italic", fontFamily: FONT, fill: D_RED, align: "left", verticalAlign: "middle" }, silent: true },
      ],
    };

    chart.setOption(option);
    return () => chart.dispose();
  }, []);

  return <div ref={ref} style={{ position: "absolute", left: 0, top: 0, width: 617, height: 606, background: "#fff" }} />;
}
